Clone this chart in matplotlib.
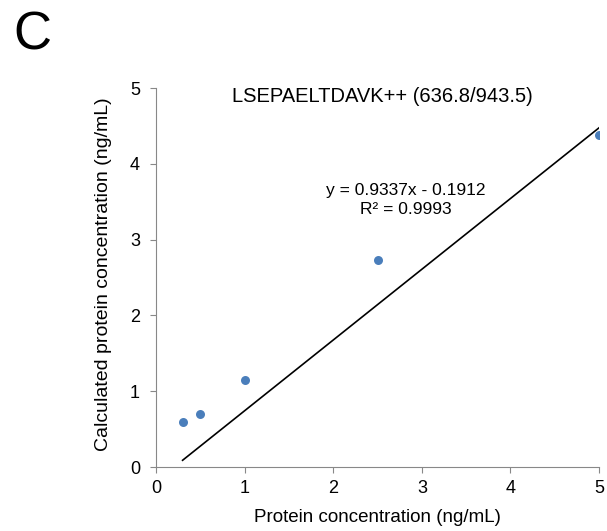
import matplotlib
matplotlib.use("Agg")
import matplotlib.pyplot as plt
import numpy as np

plt.rcParams['font.family'] = ['Liberation Sans', 'DejaVu Sans']

conc = [0.3, 0.5, 1.0, 2.5, 5.0]
calc = [0.59, 0.70, 1.15, 2.73, 4.38]
slope = 0.9337
intercept = -0.1912
title = "LSEPAELTDAVK++ (636.8/943.5)"
eq_text = "y = 0.9337x - 0.1912\nR² = 0.9993"
xticks = [0, 1, 2, 3, 4, 5]
yticks = [0, 1, 2, 3, 4, 5]

fig = plt.figure(figsize=(6.07, 5.31), dpi=100)
ax = fig.add_axes([0.257, 0.1205, 0.73, 0.7135])

ax.scatter(conc, calc, s=42, color='#4a7ebb', zorder=3, linewidths=0)
xl = np.array([min(conc), max(conc)])
ax.plot(xl, slope * xl + intercept, color='black', lw=1.2)

ax.set_xlim(0, 5)
ax.set_ylim(0, 5)
ax.set_xticks(xticks)
ax.set_yticks(yticks)
for s in ['top', 'right']:
    ax.spines[s].set_visible(False)
for s in ['left', 'bottom']:
    ax.spines[s].set_color('#888888')
ax.tick_params(axis='both', colors='#888888', labelcolor='black', labelsize=13, length=4.5, direction='out')
ax.tick_params(axis='y', pad=7)
ax.tick_params(axis='x', pad=5)
ax.set_xlabel("Protein concentration (ng/mL)", fontsize=13.5)
ax.set_ylabel("Calculated protein concentration (ng/mL)", fontsize=14)
ax.xaxis.set_label_coords(0.5, -0.112)
ax.yaxis.set_label_coords(-0.10, 0.51)

H = 531
ax.text(382, H - 97, title, transform=None, fontsize=14.5, ha='center', va='center')
ax.text(406, H - 200, eq_text, transform=None, fontsize=12.5, ha='center', va='center', linespacing=1.3)
fig.text(0.022, 0.934, "C", fontsize=38, ha='left', va='center')

fig.savefig("out.png", dpi=100)
